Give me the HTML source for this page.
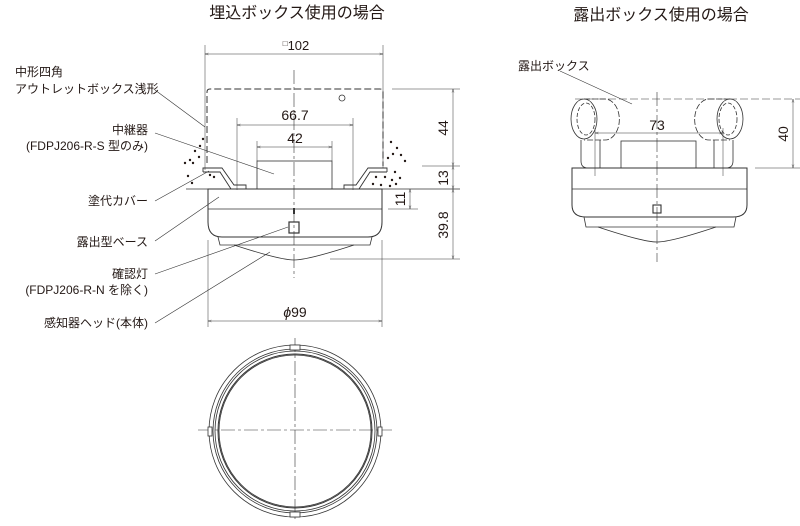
<!DOCTYPE html>
<html><head><meta charset="utf-8"><style>
html,body{margin:0;padding:0;background:#fff;}
svg{display:block;}
text{font-family:"Liberation Sans","Noto Sans CJK JP",sans-serif;fill:#231815;}
</style></head><body>
<svg width="800" height="526" viewBox="0 0 800 526" xmlns="http://www.w3.org/2000/svg">
<defs>
<marker id="a" viewBox="0 0 10 10" refX="10" refY="5" markerWidth="7" markerHeight="7" orient="auto-start-reverse"><path d="M0,2 L10,5 L0,8" fill="none" stroke="#333" stroke-width="1"/></marker>
</defs>
<g stroke="#333" fill="none" stroke-width="0.8">
<line x1="294" y1="70" x2="294" y2="278" stroke-dasharray="14,3,3,3" stroke-width="0.6"/>
<line x1="205" y1="45" x2="205" y2="170" stroke-width="0.5"/>
<line x1="383" y1="45" x2="383" y2="168" stroke-width="0.5"/>
<line x1="205" y1="54" x2="383" y2="54" stroke-width="0.5" marker-start="url(#a)" marker-end="url(#a)"/>
<path d="M207,163 L207,92 Q207,89 210,89 L380,89 Q383,89 383,92 L383,166" stroke-dasharray="7,3" stroke-width="1"/>
<circle cx="342" cy="98" r="3"/>
<line x1="237" y1="118" x2="237" y2="190" stroke-width="0.5"/>
<line x1="353" y1="118" x2="353" y2="190" stroke-width="0.5"/>
<line x1="237" y1="125" x2="353" y2="125" stroke-width="0.5" marker-start="url(#a)" marker-end="url(#a)"/>
<line x1="257" y1="141" x2="257" y2="161" stroke-width="0.5"/>
<line x1="332" y1="141" x2="332" y2="161" stroke-width="0.5"/>
<line x1="257" y1="147" x2="332" y2="147" stroke-width="0.5" marker-start="url(#a)" marker-end="url(#a)"/>
<rect x="257" y="161" width="75" height="28"/>
<line x1="186" y1="189" x2="460" y2="189"/>
<path d="M203,172 L203,168 L222,168 L234,185 L246,185 L246,189 M203,172 L220,172 L231,189" stroke-width="0.9"/>
<path d="M387,172 L387,168 L368,168 L356,185 L344,185 L344,189 M387,172 L370,172 L359,189" stroke-width="0.9"/>
<path d="M208,189 L208,222 Q208,237 222,237 L368,237 Q382,237 382,222 L382,189 Z" stroke-width="1"/>
<line x1="208" y1="209" x2="382" y2="209"/>
<path d="M218,237 L220,245 L370,245 L372,237"/>
<path d="M234,245 Q280,260 294,260 Q308,260 354,245"/>
<rect x="289" y="222" width="10" height="11" stroke-width="1.2"/>
<line x1="294" y1="208" x2="294" y2="214" stroke-width="2"/>
<line x1="392" y1="89" x2="460" y2="89" stroke-width="0.5"/>
<line x1="422" y1="166" x2="460" y2="166" stroke-width="0.5"/>
<line x1="388" y1="209" x2="418" y2="209" stroke-width="0.5"/>
<line x1="330" y1="259" x2="460" y2="259" stroke-width="0.5"/>
<line x1="453" y1="89" x2="453" y2="166" stroke-width="0.5" marker-start="url(#a)" marker-end="url(#a)"/>
<line x1="453" y1="166" x2="453" y2="189" stroke-width="0.5" marker-start="url(#a)" marker-end="url(#a)"/>
<line x1="453" y1="189" x2="453" y2="259" stroke-width="0.5" marker-start="url(#a)" marker-end="url(#a)"/>
<line x1="410" y1="189" x2="410" y2="209" stroke-width="0.5" marker-start="url(#a)" marker-end="url(#a)"/>
<line x1="208" y1="240" x2="208" y2="327" stroke-width="0.5"/>
<line x1="382" y1="240" x2="382" y2="327" stroke-width="0.5"/>
<line x1="208" y1="321" x2="382" y2="321" stroke-width="0.5" marker-start="url(#a)" marker-end="url(#a)"/>
<g stroke-width="0.6">
<line x1="155" y1="90" x2="205" y2="127"/>
<line x1="155" y1="133" x2="274" y2="174"/>
<line x1="155" y1="201" x2="209" y2="171"/>
<line x1="155" y1="241" x2="219" y2="197"/>
<line x1="155" y1="274" x2="288" y2="227"/>
<line x1="155" y1="323" x2="270" y2="252"/>
<line x1="560" y1="71" x2="632" y2="104"/>
</g>
<line x1="198" y1="430" x2="392" y2="430" stroke-dasharray="14,3,3,3" stroke-width="0.6"/>
<line x1="295" y1="338" x2="295" y2="522" stroke-dasharray="14,3,3,3" stroke-width="0.6"/>
<circle cx="295" cy="431" r="86"/>
<circle cx="295" cy="431" r="82"/>
<circle cx="295" cy="431" r="80"/>
<circle cx="295" cy="431" r="77" stroke-width="1"/>
<circle cx="295" cy="431" r="76"/>
<rect x="290" y="345" width="10" height="5" fill="#fff"/>
<rect x="290" y="512" width="10" height="5" fill="#fff"/>
<rect x="208" y="427" width="4" height="9" fill="#fff"/>
<rect x="378" y="427" width="4" height="9" fill="#fff"/>
<line x1="657" y1="92" x2="657" y2="262" stroke-dasharray="14,3,3,3" stroke-width="0.6"/>
<line x1="575" y1="99" x2="800" y2="99" stroke-dasharray="8,3" stroke-width="0.6"/>
<line x1="755" y1="168" x2="800" y2="168" stroke-width="0.5"/>
<line x1="793" y1="99" x2="793" y2="168" stroke-width="0.5" marker-start="url(#a)" marker-end="url(#a)"/>
<path d="M584,99 L605,99 A14,20 0 0 1 605,140 L584,140" stroke-dasharray="6,2"/>
<ellipse cx="584" cy="119" rx="13" ry="20"/>
<ellipse cx="586" cy="119" rx="9" ry="16" stroke-dasharray="4,2"/>
<path d="M730,99 L709,99 A14,20 0 0 0 709,140 L730,140" stroke-dasharray="6,2"/>
<ellipse cx="730" cy="119" rx="13" ry="20"/>
<ellipse cx="728" cy="119" rx="9" ry="16" stroke-dasharray="4,2"/>
<path d="M581,140 L581,161 Q581,168 588,168 M600,140 L600,168"/>
<path d="M733,140 L733,161 Q733,168 726,168 M714,140 L714,168"/>
<rect x="621" y="141" width="75" height="27"/>
<line x1="595" y1="128" x2="595" y2="176" stroke-width="0.5"/>
<line x1="723" y1="128" x2="723" y2="176" stroke-width="0.5"/>
<line x1="595" y1="133" x2="723" y2="133" stroke-width="0.5" marker-start="url(#a)" marker-end="url(#a)"/>
<path d="M572,168 L572,205 Q572,217 586,217 L733,217 Q747,217 747,205 L747,168 Z" stroke-width="1"/>
<line x1="572" y1="189" x2="747" y2="189"/>
<path d="M584,217 L586,227 L734,227 L736,217"/>
<path d="M598,227 Q643,242 657,242 Q671,242 716,227"/>
<rect x="653" y="205" width="8" height="8" stroke-width="1.1"/>
</g>
<g fill="#231815">
<circle cx="203" cy="139" r="1.2"/><circle cx="200" cy="146" r="1.2"/><circle cx="195" cy="151" r="1.2"/><circle cx="199" cy="157" r="1.2"/><circle cx="190" cy="160" r="1.2"/><circle cx="185" cy="163" r="1.2"/><circle cx="193" cy="163" r="1.2"/><circle cx="188" cy="176" r="1.2"/><circle cx="210" cy="175" r="1.2"/><circle cx="214" cy="177" r="1.2"/><circle cx="192" cy="183" r="1.2"/>
<circle cx="391" cy="142" r="1.2"/><circle cx="397" cy="148" r="1.2"/><circle cx="393" cy="154" r="1.2"/><circle cx="401" cy="155" r="1.2"/><circle cx="388" cy="158" r="1.2"/><circle cx="405" cy="161" r="1.2"/><circle cx="395" cy="172" r="1.2"/><circle cx="385" cy="177" r="1.2"/><circle cx="392" cy="180" r="1.2"/><circle cx="400" cy="178" r="1.2"/><circle cx="373" cy="184" r="1.2"/><circle cx="381" cy="185" r="1.2"/><circle cx="390" cy="186" r="1.2"/><circle cx="396" cy="184" r="1.2"/><circle cx="376" cy="177" r="1.2"/>
</g>
<text x="297" y="18" font-size="16" text-anchor="middle">埋込ボックス使用の場合</text>
<text x="661" y="20" font-size="16" text-anchor="middle">露出ボックス使用の場合</text>
<text x="296" y="50" font-size="13" text-anchor="middle"><tspan font-size="8" dy="-4">□</tspan><tspan dy="4">102</tspan></text>
<text x="295" y="120" font-size="14" text-anchor="middle">66.7</text>
<text x="295" y="143" font-size="14" text-anchor="middle">42</text>
<text x="295" y="317" font-size="14" text-anchor="middle"><tspan font-style="italic">ϕ</tspan>99</text>
<text x="657" y="130" font-size="14" text-anchor="middle">73</text>
<g font-size="14" text-anchor="middle">
<text transform="translate(448,128) rotate(-90)">44</text>
<text transform="translate(448,178) rotate(-90)">13</text>
<text transform="translate(448,225) rotate(-90)">39.8</text>
<text transform="translate(405,199) rotate(-90)">11</text>
<text transform="translate(788,134) rotate(-90)">40</text>
</g>
<g font-size="12">
<text x="15" y="76">中形四角</text>
<text x="15" y="93">アウトレットボックス浅形</text>
<text x="148" y="134" text-anchor="end">中継器</text>
<text x="148" y="150" text-anchor="end">(FDPJ206-R-S 型のみ)</text>
<text x="148" y="205" text-anchor="end">塗代カバー</text>
<text x="148" y="246" text-anchor="end">露出型ベース</text>
<text x="148" y="278" text-anchor="end">確認灯</text>
<text x="148" y="294" text-anchor="end">(FDPJ206-R-N を除く)</text>
<text x="148" y="327" text-anchor="end">感知器ヘッド(本体)</text>
<text x="518" y="70">露出ボックス</text>
</g>
</svg>
</body></html>
